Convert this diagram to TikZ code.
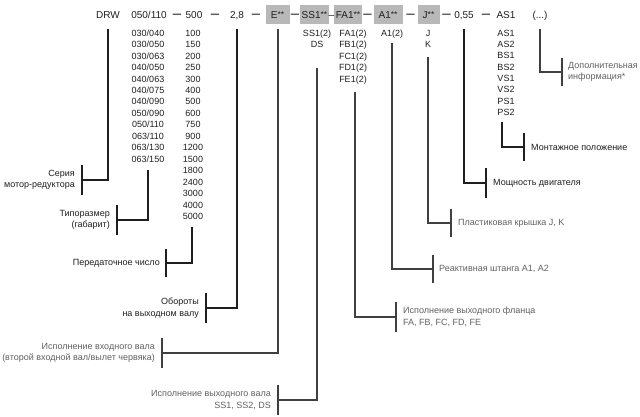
\documentclass[tikz,border=0pt]{standalone}
\usepackage{fontspec}
\setmainfont{Liberation Sans}
\definecolor{ink}{gray}{0.12}
\definecolor{boxgray}{gray}{0.72}
\definecolor{lblgray}{gray}{0.38}
\definecolor{thingray}{gray}{0.25}
\newcommand\twostars{\raisebox{1.5pt}{\fontsize{8.5}{8.5}\selectfont**}}
\tikzset{
 toptxt/.style={font=\fontsize{10}{12}\selectfont, inner sep=0pt, text height=7.2pt, text depth=0pt, text=ink},
 gbox/.style={toptxt, fill=boxgray, minimum height=19pt},
 dashtxt/.style={toptxt, font=\fontsize{15}{15}\selectfont},
 lst/.style={font=\fontsize{9}{11}\selectfont, inner sep=0pt, text height=6.5pt, text depth=0pt, text=ink},
 thk/.style={line width=2.4pt, draw=ink},
 thn/.style={line width=1.3pt, draw=thingray},
 lblk/.style={font=\fontsize{9}{11.5}\selectfont, inner sep=0pt, text=ink},
 lgry/.style={lblk, text=lblgray},
}
\begin{document}
\begin{tikzpicture}[x=1pt,y=-1pt]
\useasboundingbox (0,0) rectangle (640,417);
\fill[white] (0,0) rectangle (640,417);

% ---- top row ----
\node[toptxt] (drw) at (108,15) {DRW};
\node[toptxt] (size) at (149,15) {050/110};
\node[dashtxt] (d1) at (177,15) {–};
\node[toptxt] (ratio) at (194,15) {500};
\node[dashtxt] (d2) at (215,15) {–};
\node[toptxt] (rpm) at (237,15) {2,8};
\node[dashtxt] (d3) at (256,15) {–};
\node[gbox, minimum width=24pt] (ebox) at (277.5,15) {E\twostars};
\node[dashtxt] (d4) at (295,15) {–};
\node[gbox, minimum width=29pt] (ssbox) at (314.5,15) {SS1\twostars};
\node[dashtxt, font=\fontsize{10}{10}\selectfont] (d5) at (331.5,15) {–};
\node[gbox, minimum width=28pt] (fabox) at (348,15) {FA1\twostars};
\node[dashtxt] (d6) at (367.5,15) {–};
\node[gbox, minimum width=29pt] (abox) at (388,15) {A1\twostars};
\node[dashtxt] (d7) at (410.5,15) {–};
\node[gbox, minimum width=22pt] (jbox) at (428.5,15) {J\twostars};
\node[dashtxt] (d8) at (446.5,15) {–};
\node[toptxt] (pow) at (464,15) {0,55};
\node[dashtxt] (d9) at (486,15) {–};
\node[toptxt] (mnt) at (506,15) {AS1};
\node[toptxt] (more) at (540,15) {(...)};

% ---- lists ----
\foreach \t [count=\i from 0] in {030/040,030/050,030/063,040/050,040/063,040/075,040/090,050/090,050/110,063/110,063/130,063/150}
  \node[lst] (sz\i) at (148,{33+11.45*\i}) {\t};
\foreach \t [count=\i from 0] in {100,150,200,250,300,400,500,600,750,900,1200,1500,1800,2400,3000,4000,5000}
  \node[lst] (ra\i) at (193,{33+11.45*\i}) {\t};
\foreach \t [count=\i from 0] in {SS1(2),DS}
  \node[lst] (ss\i) at (317,{33+11.45*\i}) {\t};
\foreach \t [count=\i from 0] in {FA1(2),FB1(2),FC1(2),FD1(2),FE1(2)}
  \node[lst] (fa\i) at (353,{33+11.45*\i}) {\t};
\node[lst] (a0) at (392,33) {A1(2)};
\foreach \t [count=\i from 0] in {J,K}
  \node[lst] (j\i) at (428,{33+11.45*\i}) {\t};
\foreach \t [count=\i from 0] in {AS1,AS2,BS1,BS2,VS1,VS2,PS1,PS2}
  \node[lst] (as\i) at (506,{33+11.3*\i}) {\t};

% ---- connector points ----
\coordinate (s1) at (108,29);  \coordinate (b1) at (82,180);
\coordinate (s2) at (148,170); \coordinate (b2) at (117,220);
\coordinate (s3) at (192,227); \coordinate (b3) at (166,263);
\coordinate (s4) at (237,29);  \coordinate (b4) at (206,308);
\coordinate (s5) at (278,29);  \coordinate (b5) at (162,353);
\coordinate (s6) at (317,68);  \coordinate (b6) at (278,400);
\coordinate (s7) at (355,92);  \coordinate (b7) at (396,317);
\coordinate (s8) at (392,43);  \coordinate (b8) at (433,269);
\coordinate (s9) at (428,57);  \coordinate (b9) at (451,223);
\coordinate (s10) at (464,29); \coordinate (b10) at (486,183);
\coordinate (s11) at (502,122);\coordinate (b11) at (524,147);
\coordinate (s12) at (540,29); \coordinate (b12) at (562,72);

% thick (black) connectors
\foreach \k/\h in {1/15,2/15,3/14,4/15,10/15,11/14}{
  \draw[thk] (s\k) |- (b\k);
  \draw[thk] (b\k) ++(0,-\h) -- ++(0,2*\h);
}
% thin (grey) connectors
\foreach \k/\h in {5/15,6/15,7/15,8/14,9/14,12/14}{
  \draw[thn] (s\k) |- (b\k);
  \draw[thn] (b\k) ++(0,-\h) -- ++(0,2*\h);
}

% ---- labels ----
\node[lblk, anchor=east, align=right] (l1) at ([xshift=-7pt]b1) {Серия\\мотор-редуктора};
\node[lblk, anchor=east, align=right] (l2) at ([xshift=-7pt]b2) {Типоразмер\\(габарит)};
\node[lblk, anchor=east, align=right] (l3) at ([xshift=-6pt]b3) {Передаточное число};
\node[lblk, anchor=east, align=right] (l4) at ([xshift=-7pt]b4) {Обороты\\на выходном валу};
\node[lgry, anchor=east, align=right] (l5) at ([xshift=-7pt]b5) {Исполнение входного вала\\(второй входной вал/вылет червяка)};
\node[lgry, anchor=east, align=right] (l6) at ([xshift=-7pt]b6) {Исполнение выходного вала\\SS1, SS2, DS};
\node[lgry, anchor=west, align=left] (l7) at ([xshift=7pt]b7) {Исполнение выходного фланца\\FA, FB, FC, FD, FE};
\node[lgry, anchor=west, align=left] (l8) at ([xshift=6pt]b8) {Реактивная штанга A1, A2};
\node[lgry, anchor=west, align=left] (l9) at ([xshift=7pt]b9) {Пластиковая крышка J, K};
\node[lblk, anchor=west, align=left] (l10) at ([xshift=7pt]b10) {Мощность двигателя};
\node[lblk, anchor=west, align=left] (l11) at ([xshift=7pt]b11) {Монтажное положение};
\node[lgry, anchor=west, align=left] (l12) at ([xshift=6pt]b12) {Дополнительная\\информация*};
\end{tikzpicture}
\end{document}
